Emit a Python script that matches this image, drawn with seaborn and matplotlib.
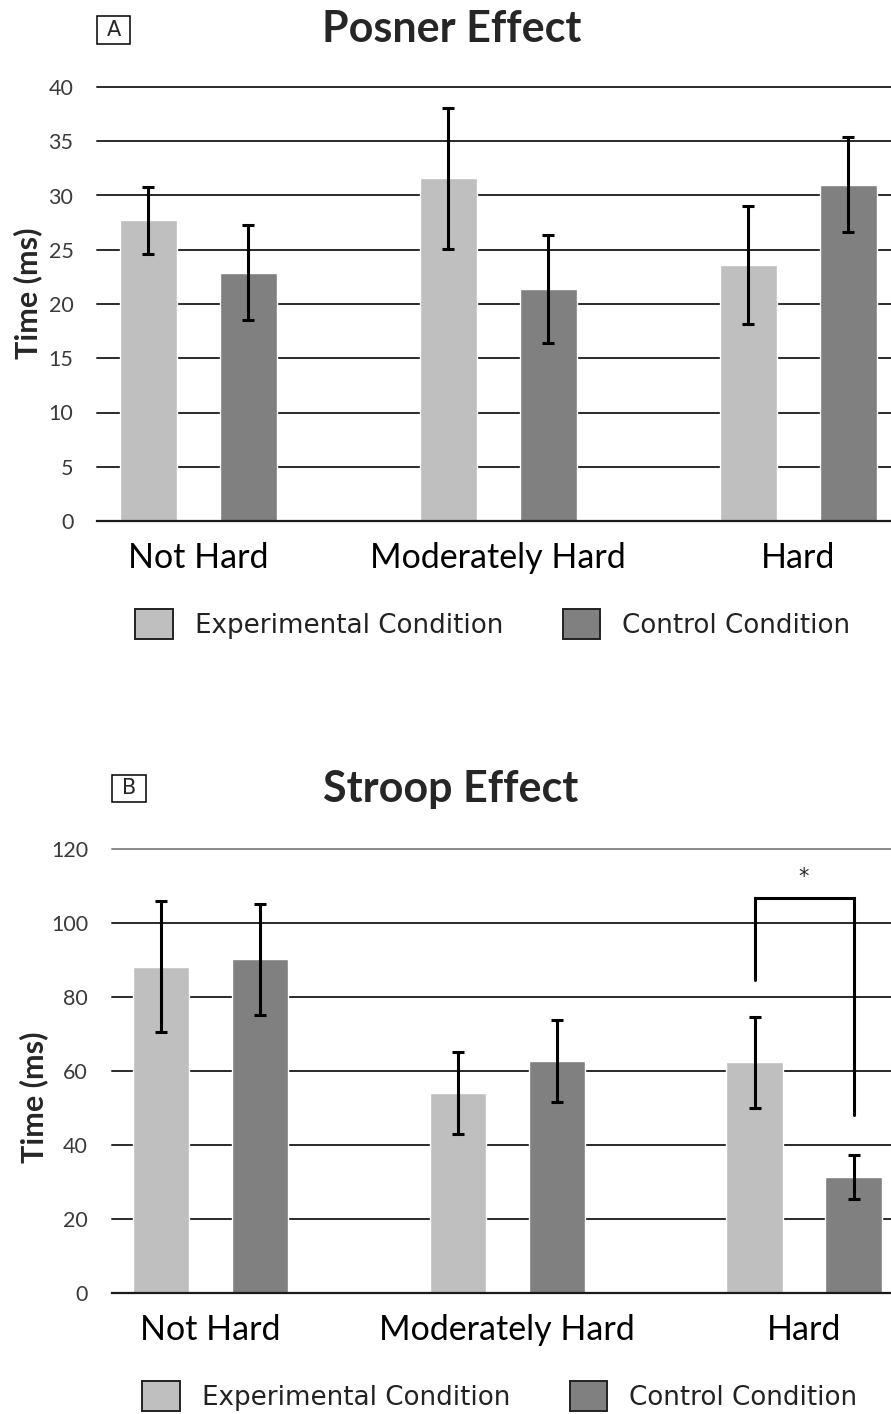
import matplotlib
matplotlib.use("Agg")
import matplotlib.pyplot as plt
from matplotlib.patches import Patch, Rectangle
import seaborn as sns
import pandas as pd

# ---- data ---------------------------------------------------------------
categories = ["Not Hard", "Moderately Hard", "Hard"]
conditions = ["Experimental Condition", "Control Condition"]

posner_exp = [27.7, 31.6, 23.6]
posner_exp_err = [3.1, 6.5, 5.4]
posner_ctrl = [22.9, 21.4, 31.0]
posner_ctrl_err = [4.4, 5.0, 4.4]

stroop_exp = [88.3, 54.1, 62.4]
stroop_exp_err = [17.6, 11.0, 12.2]
stroop_ctrl = [90.3, 62.8, 31.4]
stroop_ctrl_err = [15.0, 11.2, 5.9]

posner_ticks = [0, 5, 10, 15, 20, 25, 30, 35, 40]
stroop_ticks = [0, 20, 40, 60, 80, 100, 120]

# significance bracket on "Hard" (left foot, top, right foot) and star level
bracket_levels = [84.7, 106.8, 48.2]
star_level = 112.5

# ---- style --------------------------------------------------------------
LIGHT = "#BFBFBF"
DARK = "#808080"
MAIN_FONT = ["Lato", "DejaVu Sans"]
LEG_FONT = ["DejaVu Sans"]

sns.set_theme(style="white")
plt.rcParams["font.family"] = MAIN_FONT

W, H = 891, 1414
fig = plt.figure(figsize=(W / 100, H / 100), dpi=100)


def fx(px):
    return px / W


def fy(py):
    return 1 - py / H


def draw_panel(ax, exp, exp_err, ctrl, ctrl_err, ticks, xlim):
    df = pd.DataFrame({
        "difficulty": categories * 2,
        "condition": [conditions[0]] * 3 + [conditions[1]] * 3,
        "time": list(exp) + list(ctrl),
    })
    sns.barplot(data=df, x="difficulty", y="time", hue="condition",
                order=categories, hue_order=conditions,
                palette=[LIGHT, DARK], saturation=1, width=2 / 3, gap=0.43,
                errorbar=None, legend=False, ax=ax, zorder=2)
    for cont, errs in zip(ax.containers, [exp_err, ctrl_err]):
        xs = [b.get_x() + b.get_width() / 2 for b in cont]
        ys = [b.get_height() for b in cont]
        ax.errorbar(xs, ys, yerr=errs, fmt="none", ecolor="black",
                    elinewidth=2.2, capsize=4, capthick=2.2, zorder=3)
    ax.set_ylim(ticks[0], ticks[-1])
    ax.set_xlim(*xlim)
    ax.set_yticks(ticks)
    ax.set_axisbelow(True)
    ax.grid(axis="y", color="#2a2a2a", lw=1.4)
    for gl in ax.get_ygridlines():
        gl.set_clip_on(False)
    for s in ["left", "top", "right"]:
        ax.spines[s].set_visible(False)
    ax.spines["bottom"].set_color("#1a1a1a")
    ax.spines["bottom"].set_linewidth(1.6)
    ax.tick_params(axis="both", length=0)
    ax.tick_params(axis="y", pad=17, labelsize=15.5, labelcolor="#3a3a3a")
    ax.tick_params(axis="x", pad=15, labelsize=24.5, labelcolor="black")
    ax.set_xlabel("")
    ax.set_ylabel("Time (ms)", fontsize=22, fontweight="bold")
    return ax


def add_legend(center_px):
    handles = [Patch(facecolor=LIGHT, edgecolor="#222222", lw=1.4, label=conditions[0]),
               Patch(facecolor=DARK, edgecolor="#222222", lw=1.4, label=conditions[1])]
    fig.legend(handles=handles, loc="center",
               bbox_to_anchor=(fx(center_px[0]), fy(center_px[1])),
               ncol=2, frameon=False, prop={"family": LEG_FONT, "size": 18.8},
               handlelength=1.42, handleheight=1.42, handletextpad=0.85,
               columnspacing=2.3, labelcolor="#222222")


# ---- panel A: Posner ----------------------------------------------------
axA = fig.add_axes([fx(97), fy(521), 1 - fx(97), (521 - 87) / H])
draw_panel(axA, posner_exp, posner_exp_err, posner_ctrl, posner_ctrl_err,
           posner_ticks, (-0.337, 2.31))
axA.yaxis.set_label_coords(-(97 - 28) / (W - 97), (521 - 293) / (521 - 87))
axA.yaxis.label.set_va("center")

fig.text(fx(452), fy(42), "Posner Effect", ha="center", va="baseline",
         fontsize=31, fontweight="bold")
fig.patches.append(Rectangle((fx(97), fy(44)), fx(33), 28 / H,
                             transform=fig.transFigure, fill=False,
                             ec="black", lw=1.1))
fig.text(fx(113.5), fy(30), "A", ha="center", va="center", fontsize=15,
         family=LEG_FONT)
add_legend((493, 624))

# ---- panel B: Stroop ----------------------------------------------------
axB = fig.add_axes([fx(111.7), fy(1293.3), 1 - fx(111.7), (1293.3 - 849.3) / H])
draw_panel(axB, stroop_exp, stroop_exp_err, stroop_ctrl, stroop_ctrl_err,
           stroop_ticks, (-0.333, 2.293))
axB.yaxis.set_label_coords(-(111.7 - 34) / (W - 111.7), (1293.3 - 1097) / (1293.3 - 849.3))
axB.yaxis.label.set_va("center")
axB.get_ygridlines()[-1].set_color("#8a8a8a")

# bracket between the two "Hard" bars
hard_exp_bar = axB.containers[0][2]
hard_ctrl_bar = axB.containers[1][2]
bx0 = hard_exp_bar.get_x() + hard_exp_bar.get_width() / 2
bx1 = hard_ctrl_bar.get_x() + hard_ctrl_bar.get_width() / 2
axB.plot([bx0, bx0, bx1, bx1],
         [bracket_levels[0], bracket_levels[1], bracket_levels[1], bracket_levels[2]],
         color="black", lw=2.2, solid_joinstyle="miter", zorder=4, clip_on=False)
axB.text((bx0 + bx1) / 2, star_level, "*", ha="center", va="center",
         fontsize=15, family=LEG_FONT, zorder=4)

fig.text(fx(451), fy(802), "Stroop Effect", ha="center", va="baseline",
         fontsize=31, fontweight="bold")
fig.patches.append(Rectangle((fx(112), fy(802)), fx(34), 27 / H,
                             transform=fig.transFigure, fill=False,
                             ec="black", lw=1.1))
fig.text(fx(129), fy(788.5), "B", ha="center", va="center", fontsize=15,
         family=LEG_FONT)
add_legend((500, 1396))

fig.savefig("out.png", dpi=100, facecolor="white")
